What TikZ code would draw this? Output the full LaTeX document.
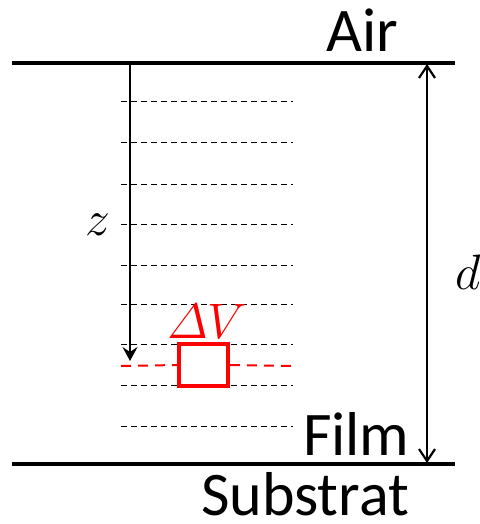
\documentclass[tikz,border=0pt]{standalone}
\usepackage{amsmath}
\usepackage{fontspec}
\setmainfont{Carlito}
\usetikzlibrary{positioning,arrows.meta}

\tikzset{
  interface/.style={line width=1.6pt},
  sublayer/.style={line width=0.5pt,dash pattern=on 3pt off 2pt},
  medium/.style={font=\fontsize{31}{36}\selectfont,inner sep=0pt,text depth=0pt},
  symb/.style={font=\fontsize{24}{28}\selectfont,inner sep=0pt}
}

\begin{document}
\begin{tikzpicture}[x=0.5pt,y=-0.5pt]
  \useasboundingbox (0,0) rectangle (480,524);
  % air/film and film/substrate interfaces
  \coordinate (topL) at (12,63);
  \coordinate (topR) at (455,63);
  \coordinate (botL) at (12,464);
  \coordinate (botR) at (455,464);
  \draw[interface] (topL) -- (topR);
  \draw[interface] (botL) -- (botR);
  \node[medium,anchor=base] (air) at (362,52) {Air};
  \node[medium,anchor=base east] (film) at (410,455) {Film};
  \node[medium,anchor=base] (subst) at (305,515) {Substrat};
  % sublayers
  \foreach \y in {102,142,184,224,265,304,344,385,426}{
    \draw[sublayer] (121,\y) -- (293,\y);
  }
  % depth z
  \coordinate (zstart) at (130,63);
  \coordinate (zend) at (130,361);
  \draw[line width=1.1pt,-{Stealth[length=7pt,width=7.5pt,inset=2.5pt]}] (zstart) -- (zend);
  \node[symb] (zlab) at (98,225) {$z$};
  % thickness d
  \coordinate (dtop) at (427,64);
  \coordinate (dbot) at (427,463);
  \draw[line width=1.1pt,{Straight Barb[length=6pt,width=8pt]}-{Straight Barb[length=6pt,width=8pt]}] (dtop) -- (dbot);
  \node[symb] (dlab) at (468,272) {$d$};
  % volume element
  \node[draw=red,line width=1.8pt,minimum width=24.5pt,minimum height=21pt,inner sep=0pt] (dv) at (203.5,365) {};
  \node[symb,text=red,anchor=base] (dvlab) at (207,338) {$\varDelta V$};
  \coordinate (redL) at (121,366);
  \coordinate (redR) at (295,366);
  \draw[red,line width=1pt,dash pattern=on 5pt off 3.5pt] (redL) -- (dv.west);
  \draw[red,line width=1pt,dash pattern=on 5pt off 3.5pt] (dv.east) -- (redR);
\end{tikzpicture}
\end{document}
